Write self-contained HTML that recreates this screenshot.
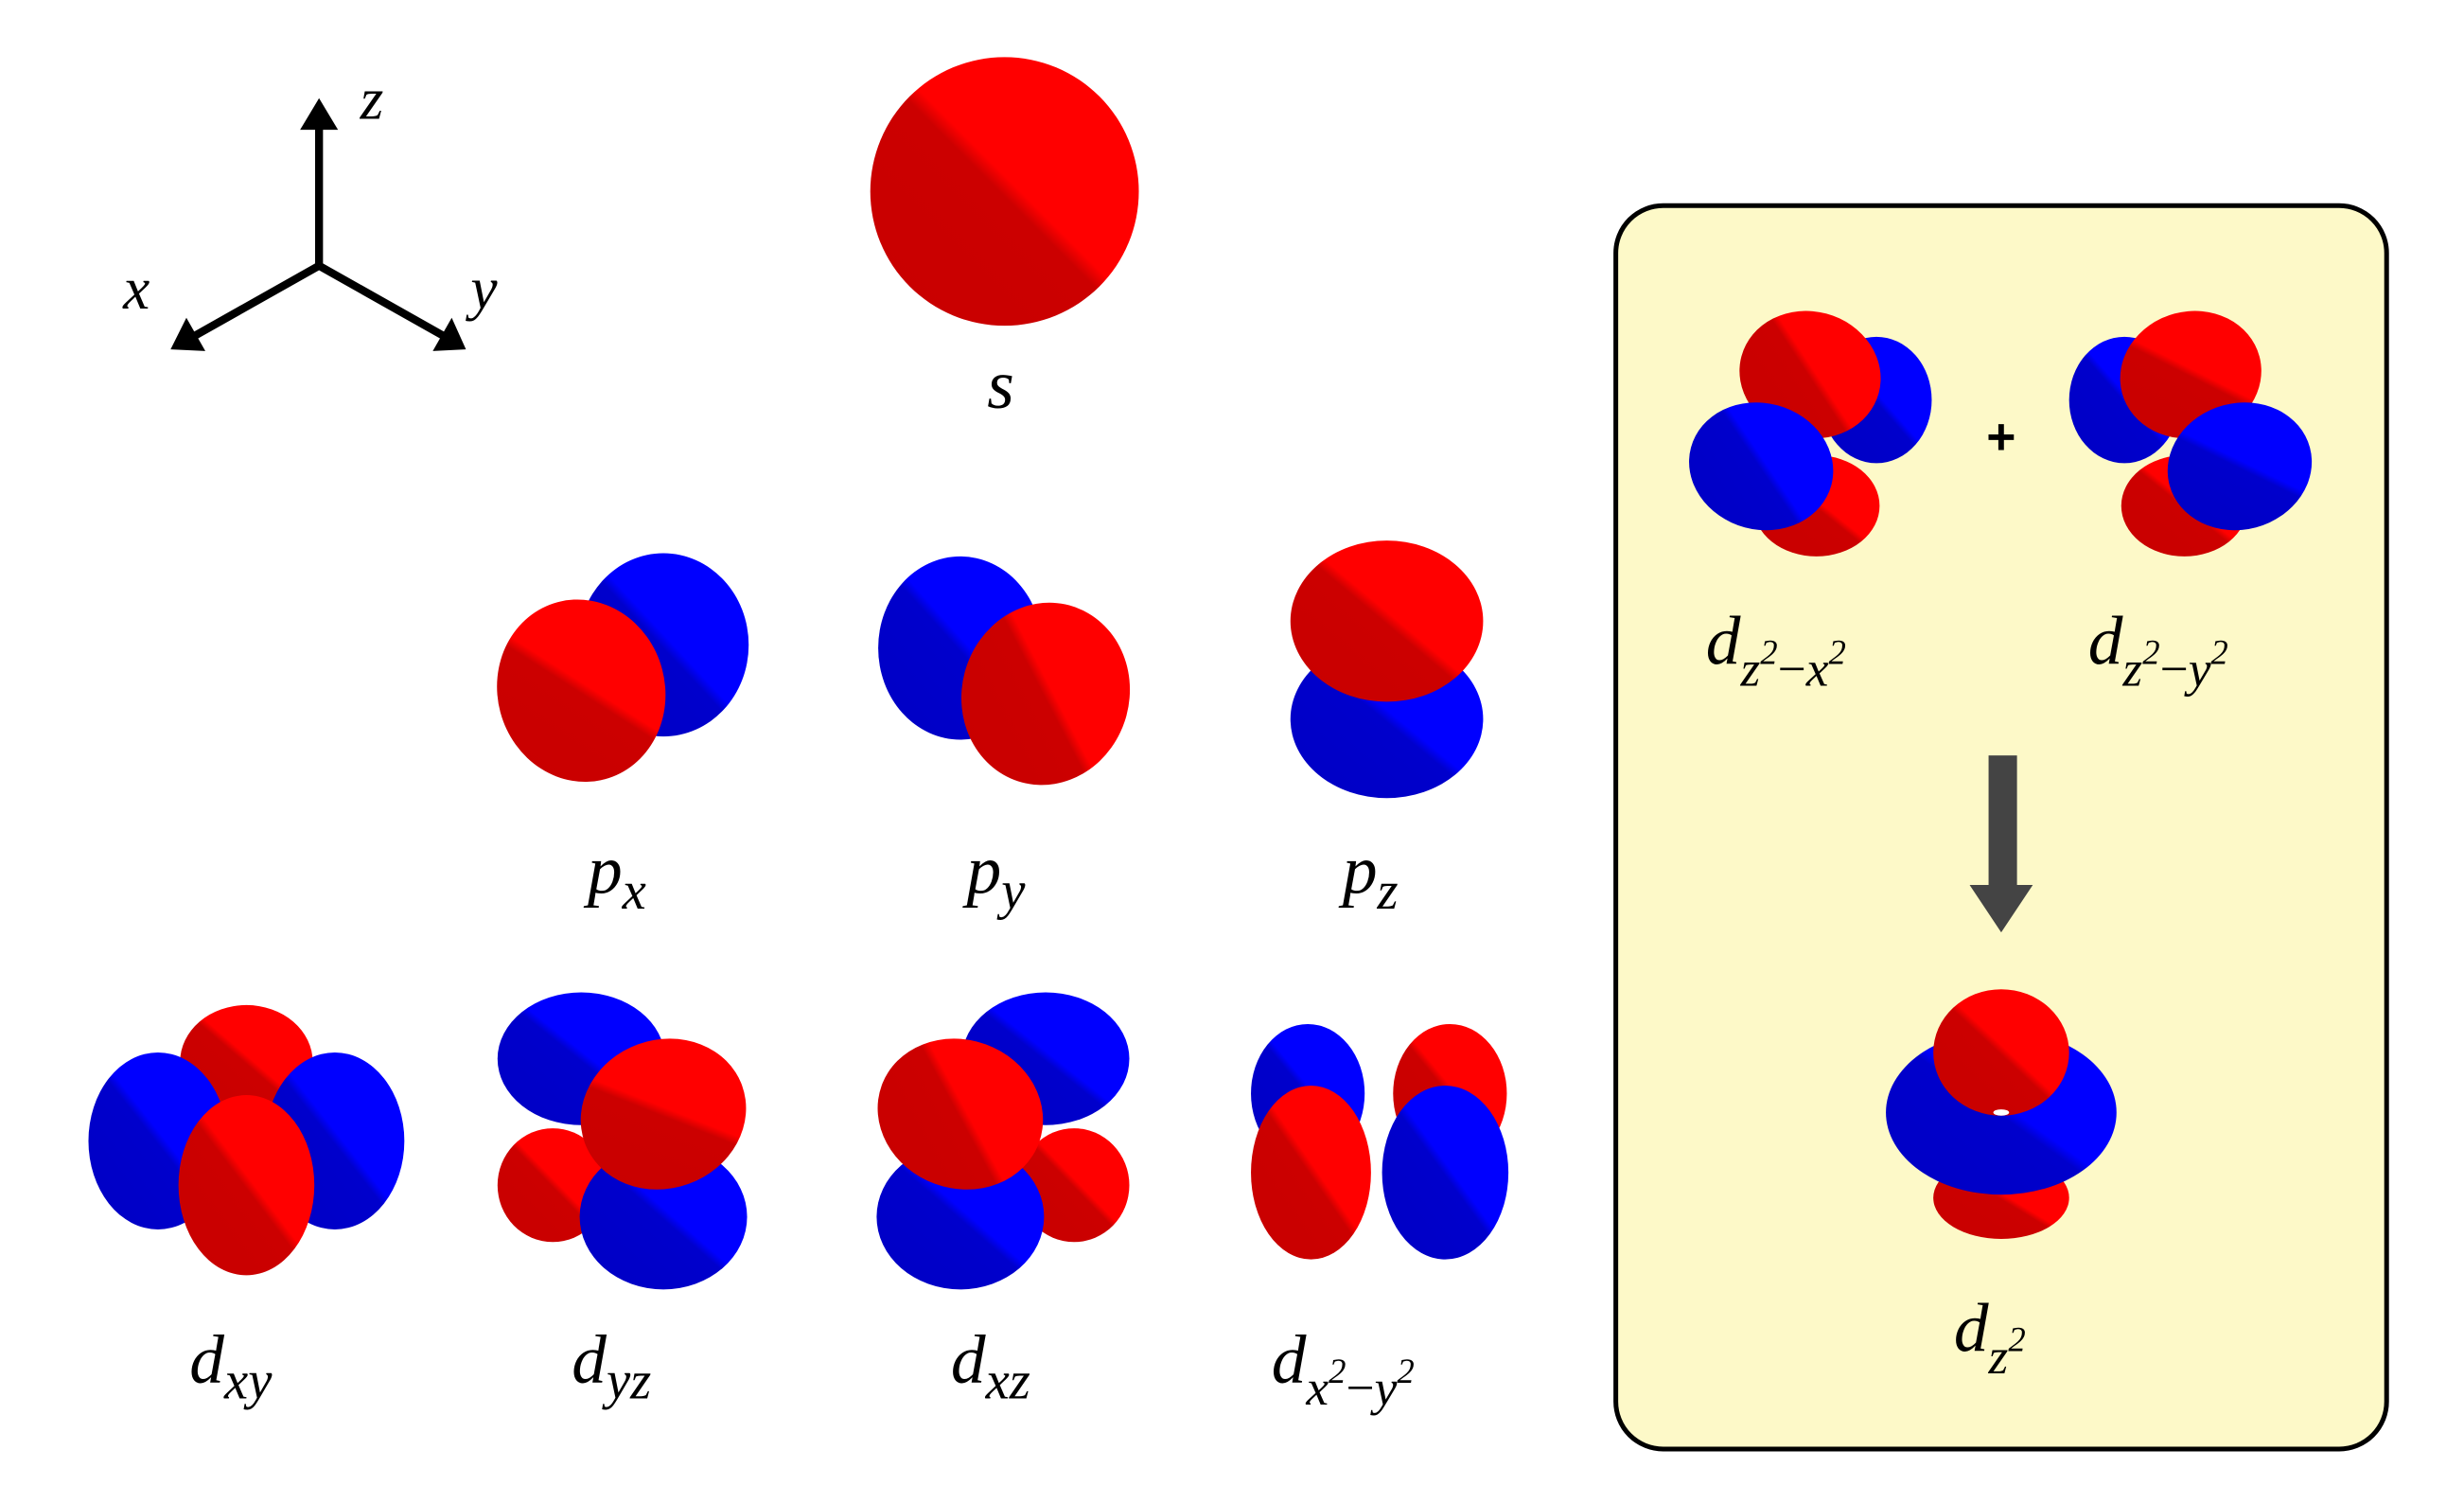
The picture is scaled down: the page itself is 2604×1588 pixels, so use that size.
<!DOCTYPE html>
<html><head><meta charset="utf-8">
<style>
html,body{margin:0;padding:0;background:#fff;}
svg{display:block;}
.lbl{font-family:"Liberation Serif",serif;font-style:italic;fill:#000;}
</style></head>
<body>
<svg width="2604" height="1588" viewBox="0 0 1560 951" xmlns="http://www.w3.org/2000/svg">
<defs>
<linearGradient id="gr" x1="0" y1="1" x2="1" y2="0">
<stop offset="0" stop-color="#c80000"/><stop offset="0.49" stop-color="#cc0000"/><stop offset="0.53" stop-color="#ff0000"/><stop offset="1" stop-color="#ff0000"/>
</linearGradient>
<linearGradient id="gb" x1="0" y1="1" x2="1" y2="0">
<stop offset="0" stop-color="#0000c4"/><stop offset="0.49" stop-color="#0000cc"/><stop offset="0.53" stop-color="#0000ff"/><stop offset="1" stop-color="#0000ff"/>
</linearGradient>
</defs>

<g stroke="#000" stroke-width="5" fill="none">
<line x1="202" y1="168" x2="202" y2="80"/>
<line x1="202" y1="168" x2="124" y2="212"/>
<line x1="202" y1="168" x2="280" y2="212"/>
</g>
<polygon points="202,62 190,82 214,82" fill="#000"/>
<polygon points="108,221 118,201 130,222" fill="#000"/>
<polygon points="295,221 274,222 286,201" fill="#000"/>
<text class="lbl" x="228" y="75" font-size="38">z</text>
<text class="lbl" x="78" y="195" font-size="38">x</text>
<text class="lbl" x="298" y="195" font-size="38">y</text>

<g>
<circle cx="636" cy="121" r="85" fill="url(#gr)"/>
</g>
<text class="lbl" x="625" y="258" font-size="44">s</text>

<g>
<ellipse cx="420" cy="408" rx="54" ry="58" fill="url(#gb)"/>
<ellipse cx="368" cy="437" rx="53" ry="58" transform="rotate(-15 368 437)" fill="url(#gr)"/>
</g>
<text class="lbl" x="372" y="565" font-size="44">p<tspan font-size="34" dy="10">x</tspan></text>

<g>
<ellipse cx="608" cy="410" rx="52" ry="58" fill="url(#gb)"/>
<ellipse cx="662" cy="439" rx="53" ry="58" transform="rotate(15 662 439)" fill="url(#gr)"/>
</g>
<text class="lbl" x="612" y="565" font-size="44">p<tspan font-size="34" dy="10">y</tspan></text>

<g>
<ellipse cx="878" cy="455" rx="61" ry="50" fill="url(#gb)"/>
<ellipse cx="878" cy="393" rx="61" ry="51" fill="url(#gr)"/>
</g>
<text class="lbl" x="850" y="565" font-size="44">p<tspan font-size="34" dy="10">z</tspan></text>

<g>
<ellipse cx="156" cy="672" rx="42" ry="36" fill="url(#gr)"/>
<ellipse cx="100" cy="722" rx="44" ry="56" fill="url(#gb)"/>
<ellipse cx="212" cy="722" rx="44" ry="56" fill="url(#gb)"/>
<ellipse cx="156" cy="750" rx="43" ry="57" fill="url(#gr)"/>
</g>
<text class="lbl" x="120" y="875" font-size="44">d<tspan font-size="34" dy="10">xy</tspan></text>

<g>
<ellipse cx="368" cy="670" rx="53" ry="42" fill="url(#gb)"/>
<ellipse cx="350" cy="750" rx="35" ry="36" fill="url(#gr)"/>
<ellipse cx="420" cy="770" rx="53" ry="46" fill="url(#gb)"/>
<ellipse cx="420" cy="705" rx="53" ry="47" transform="rotate(-20 420 705)" fill="url(#gr)"/>
</g>
<text class="lbl" x="362" y="875" font-size="44">d<tspan font-size="34" dy="10">yz</tspan></text>

<g>
<ellipse cx="662" cy="670" rx="53" ry="42" fill="url(#gb)"/>
<ellipse cx="680" cy="750" rx="35" ry="36" fill="url(#gr)"/>
<ellipse cx="608" cy="770" rx="53" ry="46" fill="url(#gb)"/>
<ellipse cx="608" cy="705" rx="53" ry="47" transform="rotate(20 608 705)" fill="url(#gr)"/>
</g>
<text class="lbl" x="602" y="875" font-size="44">d<tspan font-size="34" dy="10">xz</tspan></text>

<g>
<ellipse cx="828" cy="692" rx="36" ry="44" fill="url(#gb)"/>
<ellipse cx="918" cy="692" rx="36" ry="44" fill="url(#gr)"/>
<ellipse cx="830" cy="742" rx="38" ry="55" fill="url(#gr)"/>
<ellipse cx="915" cy="742" rx="40" ry="55" fill="url(#gb)"/>
</g>
<text class="lbl" x="805" y="875" font-size="44">d<tspan font-size="32" dy="14">x</tspan><tspan font-size="22" dy="-14">2</tspan><tspan font-size="32" dy="14" font-style="normal">−</tspan><tspan font-size="32">y</tspan><tspan font-size="22" dy="-14">2</tspan></text>

<rect x="1023" y="130" width="488" height="787" rx="30" fill="#fdf9c8" stroke="#000" stroke-width="3"/>

<g>
<ellipse cx="1150" cy="320" rx="40" ry="32" fill="url(#gr)"/>
<ellipse cx="1188" cy="253" rx="35" ry="40" fill="url(#gb)"/>
<ellipse cx="1146" cy="237" rx="45" ry="40" transform="rotate(15 1146 237)" fill="url(#gr)"/>
<ellipse cx="1115" cy="295" rx="46" ry="40" transform="rotate(15 1115 295)" fill="url(#gb)"/>
</g>
<text x="1267" y="287" font-family="Liberation Sans,sans-serif" font-size="32" font-weight="bold" text-anchor="middle">+</text>
<g>
<ellipse cx="1383" cy="320" rx="40" ry="32" fill="url(#gr)"/>
<ellipse cx="1345" cy="253" rx="35" ry="40" fill="url(#gb)"/>
<ellipse cx="1387" cy="237" rx="45" ry="40" transform="rotate(-15 1387 237)" fill="url(#gr)"/>
<ellipse cx="1418" cy="295" rx="46" ry="40" transform="rotate(-15 1418 295)" fill="url(#gb)"/>
</g>
<text class="lbl" x="1080" y="420" font-size="44">d<tspan font-size="32" dy="14">z</tspan><tspan font-size="22" dy="-14">2</tspan><tspan font-size="32" dy="14" font-style="normal">−</tspan><tspan font-size="32">x</tspan><tspan font-size="22" dy="-14">2</tspan></text>
<text class="lbl" x="1322" y="420" font-size="44">d<tspan font-size="32" dy="14">z</tspan><tspan font-size="22" dy="-14">2</tspan><tspan font-size="32" dy="14" font-style="normal">−</tspan><tspan font-size="32">y</tspan><tspan font-size="22" dy="-14">2</tspan></text>

<g fill="#444">
<rect x="1259" y="478" width="18" height="84"/>
<polygon points="1247,560 1287,560 1267,590"/>
</g>

<g>
<ellipse cx="1267" cy="758" rx="43" ry="26" fill="url(#gr)"/>
<ellipse cx="1267" cy="704" rx="73" ry="52" fill="url(#gb)"/>
<ellipse cx="1267" cy="666" rx="43" ry="40" fill="url(#gr)"/>
<ellipse cx="1267" cy="704" rx="5" ry="2" fill="#fff"/>
</g>
<text class="lbl" x="1237" y="855" font-size="44">d<tspan font-size="32" dy="14">z</tspan><tspan font-size="22" dy="-14">2</tspan></text>
</svg>
</body></html>
